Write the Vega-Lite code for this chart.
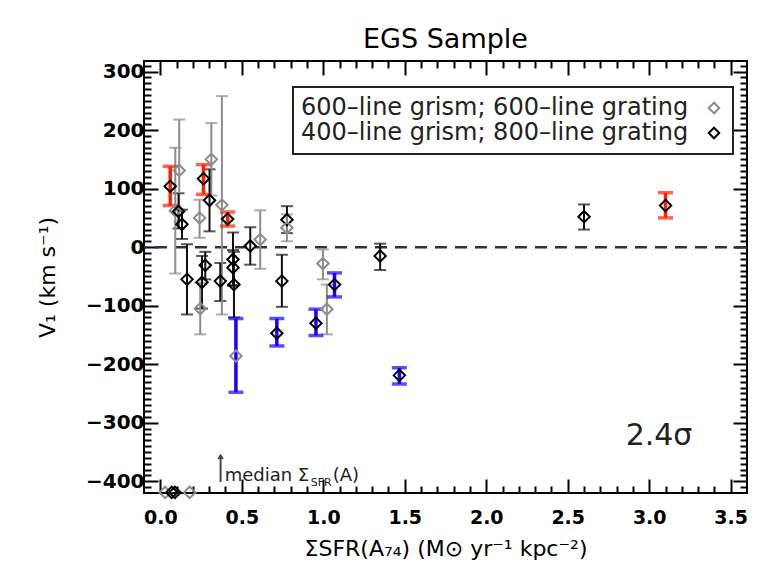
{
  "$schema": "https://vega.github.io/schema/vega-lite/v6.json",
  "width": 603,
  "height": 432,
  "autosize": {"type": "none"},
  "padding": {"left": 144, "top": 61, "right": 20, "bottom": 79},
  "background": "white",
  "title": {"text": "EGS Sample", "font": "DejaVu Sans", "fontSize": 27, "fontWeight": "normal", "color": "black", "anchor": "middle", "frame": "group", "offset": 2},
  "datasets": {
    "pts": [
      {"x": 0.092, "v": 62, "lo": -45, "hi": 170, "grp": "600", "sig": "no"},
      {"x": 0.116, "v": 131, "lo": 44, "hi": 218, "grp": "600", "sig": "no"},
      {"x": 0.112, "v": 61, "lo": 32, "hi": 92, "grp": "400", "sig": "no"},
      {"x": 0.133, "v": 39, "lo": 14, "hi": 64, "grp": "400", "sig": "no"},
      {"x": 0.164, "v": -55, "lo": -115, "hi": 5, "grp": "400", "sig": "no"},
      {"x": 0.241, "v": 50, "lo": 16, "hi": 81, "grp": "600", "sig": "no"},
      {"x": 0.313, "v": 150, "lo": 88, "hi": 212, "grp": "600", "sig": "no"},
      {"x": 0.302, "v": 80, "lo": 27, "hi": 133, "grp": "400", "sig": "no"},
      {"x": 0.378, "v": 72, "lo": -115, "hi": 258, "grp": "600", "sig": "no"},
      {"x": 0.446, "v": -21, "lo": -66, "hi": 25, "grp": "400", "sig": "no"},
      {"x": 0.446, "v": -35, "lo": -65, "hi": -5, "grp": "400", "sig": "no"},
      {"x": 0.452, "v": -64, "lo": -120, "hi": -8, "grp": "400", "sig": "no"},
      {"x": 0.552, "v": 2, "lo": -30, "hi": 34, "grp": "400", "sig": "no"},
      {"x": 0.613, "v": 13, "lo": -37, "hi": 63, "grp": "600", "sig": "no"},
      {"x": 0.777, "v": 47, "lo": 24, "hi": 70, "grp": "400", "sig": "no"},
      {"x": 0.777, "v": 33, "lo": 10, "hi": 56, "grp": "600", "sig": "no"},
      {"x": 0.276, "v": -31, "lo": -55, "hi": -8, "grp": "400", "sig": "no"},
      {"x": 0.256, "v": -60, "lo": -105, "hi": -15, "grp": "400", "sig": "no"},
      {"x": 0.245, "v": -105, "lo": -149, "hi": -61, "grp": "600", "sig": "no"},
      {"x": 0.368, "v": -58, "lo": -92, "hi": -27, "grp": "400", "sig": "no"},
      {"x": 0.746, "v": -58, "lo": -102, "hi": -13, "grp": "400", "sig": "no"},
      {"x": 0.998, "v": -28, "lo": -55, "hi": -4, "grp": "600", "sig": "no"},
      {"x": 1.022, "v": -106, "lo": -149, "hi": -64, "grp": "600", "sig": "no"},
      {"x": 1.349, "v": -15, "lo": -39, "hi": 6, "grp": "400", "sig": "no"},
      {"x": 2.6, "v": 52, "lo": 30, "hi": 73, "grp": "400", "sig": "no"},
      {"x": 0.061, "v": 104, "lo": 71, "hi": 138, "grp": "400", "sig": "pos"},
      {"x": 0.265, "v": 117, "lo": 90, "hi": 141, "grp": "400", "sig": "pos"},
      {"x": 0.413, "v": 48, "lo": 36, "hi": 60, "grp": "400", "sig": "pos"},
      {"x": 3.1, "v": 71, "lo": 50, "hi": 93, "grp": "400", "sig": "pos"},
      {"x": 0.464, "v": -186, "lo": -248, "hi": -122, "grp": "600", "sig": "neg"},
      {"x": 0.715, "v": -147, "lo": -169, "hi": -122, "grp": "400", "sig": "neg"},
      {"x": 0.955, "v": -130, "lo": -151, "hi": -106, "grp": "400", "sig": "neg"},
      {"x": 1.069, "v": -64, "lo": -85, "hi": -44, "grp": "400", "sig": "neg"},
      {"x": 1.467, "v": -219, "lo": -234, "hi": -206, "grp": "400", "sig": "neg"},
      {"x": 0.03, "v": -419, "lo": null, "hi": null, "grp": "600", "sig": "lim"},
      {"x": 0.07, "v": -419, "lo": null, "hi": null, "grp": "400", "sig": "lim"},
      {"x": 0.09, "v": -419, "lo": null, "hi": null, "grp": "400", "sig": "lim"},
      {"x": 0.18, "v": -419, "lo": null, "hi": null, "grp": "600", "sig": "lim"}
    ]
  },
  "data": {"name": "pts"},
  "resolve": {"axis": {"x": "independent", "y": "independent"}},
  "layer": [
    {
      "data": {"values": [{}]},
      "mark": {"type": "rule", "strokeDash": [12, 8], "strokeWidth": 2.5, "color": "#333333"},
      "encoding": {"y": {"datum": 0, "type": "quantitative", "scale": {"domain": [-420, 318], "nice": false, "zero": false}, "axis": null}}
    },
    {
      "transform": [{"filter": "datum.sig == 'no'"}],
      "mark": {"type": "errorbar", "ticks": true, "size": 12, "thickness": 2},
      "encoding": {
        "x": {"field": "x", "type": "quantitative", "scale": {"domain": [-0.1, 3.6], "nice": false, "zero": false},
          "axis": {"orient": "bottom", "title": "ΣSFR(A₇₄) (M⊙ yr⁻¹ kpc⁻²)", "values": [0,0.1,0.2,0.3,0.4,0.5,0.6,0.7,0.8,0.9,1,1.1,1.2,1.3,1.4,1.5,1.6,1.7,1.8,1.9,2,2.1,2.2,2.3,2.4,2.5,2.6,2.7,2.8,2.9,3,3.1,3.2,3.3,3.4,3.5],
            "labelExpr": "round(datum.value*10) % 5 == 0 ? format(datum.value, '.1f') : ''",
            "tickSize": {"condition": {"test": "round(datum.value*10) % 5 == 0", "value": -14}, "value": -7},
            "labelPadding": 29, "titlePadding": 4, "labelFlush": false, "labelOverlap": false}},
        "y": {"field": "lo", "type": "quantitative", "scale": {"domain": [-420, 318], "nice": false, "zero": false},
          "axis": {"orient": "left", "title": "V₁ (km s⁻¹)", "values": [-410,-400,-390,-380,-370,-360,-350,-340,-330,-320,-310,-300,-290,-280,-270,-260,-250,-240,-230,-220,-210,-200,-190,-180,-170,-160,-150,-140,-130,-120,-110,-100,-90,-80,-70,-60,-50,-40,-30,-20,-10,0,10,20,30,40,50,60,70,80,90,100,110,120,130,140,150,160,170,180,190,200,210,220,230,240,250,260,270,280,290,300,310],
            "labelExpr": "datum.value % 100 == 0 ? datum.label : ''",
            "tickSize": {"condition": {"test": "datum.value % 100 == 0", "value": -14}, "value": -7},
            "labelFontSize": 20, "labelPadding": 14, "titlePadding": 26, "labelOverlap": false, "labelFlush": false}},
        "y2": {"field": "hi"},
        "color": {"field": "grp", "type": "nominal", "scale": {"domain": ["600", "400", "pos", "neg"], "range": ["#8c8c8c", "#111111", "#ff2200", "#1a00ff"]}, "legend": null}
      }
    },
    {
      "transform": [{"filter": "datum.sig == 'pos' || datum.sig == 'neg'"}],
      "mark": {"type": "errorbar", "ticks": true, "size": 15, "thickness": 3.5},
      "encoding": {
        "x": {"field": "x", "type": "quantitative", "scale": {"domain": [-0.1, 3.6], "nice": false, "zero": false}, "axis": null},
        "y": {"field": "lo", "type": "quantitative", "scale": {"domain": [-420, 318], "nice": false, "zero": false}, "axis": null},
        "y2": {"field": "hi"},
        "color": {"field": "sig", "type": "nominal", "scale": {"domain": ["600", "400", "pos", "neg"], "range": ["#8c8c8c", "#111111", "#ff2200", "#1a00ff"]}, "legend": null}
      }
    },
    {
      "mark": {"type": "point", "shape": "diamond", "filled": false, "size": 130, "strokeWidth": 2, "opacity": 1},
      "encoding": {
        "x": {"field": "x", "type": "quantitative", "scale": {"domain": [-0.1, 3.6], "nice": false, "zero": false},
          "axis": {"orient": "top", "title": null, "labels": false, "values": [0,0.1,0.2,0.3,0.4,0.5,0.6,0.7,0.8,0.9,1,1.1,1.2,1.3,1.4,1.5,1.6,1.7,1.8,1.9,2,2.1,2.2,2.3,2.4,2.5,2.6,2.7,2.8,2.9,3,3.1,3.2,3.3,3.4,3.5],
            "tickSize": {"condition": {"test": "round(datum.value*10) % 5 == 0", "value": -14}, "value": -7}}},
        "y": {"field": "v", "type": "quantitative", "scale": {"domain": [-420, 318], "nice": false, "zero": false},
          "axis": {"orient": "right", "title": null, "labels": false, "values": [-410,-400,-390,-380,-370,-360,-350,-340,-330,-320,-310,-300,-290,-280,-270,-260,-250,-240,-230,-220,-210,-200,-190,-180,-170,-160,-150,-140,-130,-120,-110,-100,-90,-80,-70,-60,-50,-40,-30,-20,-10,0,10,20,30,40,50,60,70,80,90,100,110,120,130,140,150,160,170,180,190,200,210,220,230,240,250,260,270,280,290,300,310],
            "tickSize": {"condition": {"test": "datum.value % 100 == 0", "value": -14}, "value": -7}}},
        "stroke": {"field": "grp", "type": "nominal", "scale": {"domain": ["600", "400"], "range": ["#8c8c8c", "#000000"]},
          "legend": {"title": null, "orient": "none", "legendX": 149, "legendY": 26, "direction": "vertical",
            "symbolType": "diamond", "symbolSize": 110, "symbolStrokeWidth": 2, "symbolOffset": 400, "labelOffset": -425,
            "labelFont": "DejaVu Sans", "labelFontSize": 24, "labelColor": "#222222", "labelLimit": 600,
            "labelExpr": "datum.value == '600' ? '600–line grism; 600–line grating' : '400–line grism; 800–line grating'",
            "strokeColor": "#222222", "fillColor": "white", "padding": 9, "rowPadding": 1}}
      }
    },
    {
      "data": {"values": [{}]},
      "mark": {"type": "rule", "strokeWidth": 2, "color": "#444444"},
      "encoding": {
        "x": {"datum": 0.37, "type": "quantitative", "axis": null},
        "y": {"datum": -401, "type": "quantitative", "axis": null},
        "y2": {"datum": -356}
      }
    },
    {
      "data": {"values": [{}]},
      "mark": {"type": "point", "shape": "M -0.6 0.9 L 0 0 L 0.6 0.9", "filled": false, "size": 60, "strokeWidth": 2, "color": "#444444", "opacity": 1},
      "encoding": {
        "x": {"datum": 0.37, "type": "quantitative", "axis": null},
        "y": {"datum": -356, "type": "quantitative", "axis": null}
      }
    },
    {
      "data": {"values": [{}]},
      "mark": {"type": "text", "text": "median Σ", "align": "left", "baseline": "alphabetic", "font": "DejaVu Sans", "fontSize": 18, "color": "#222222"},
      "encoding": {
        "x": {"datum": 0.395, "type": "quantitative", "axis": null},
        "y": {"datum": -400, "type": "quantitative", "axis": null}
      }
    },
    {
      "data": {"values": [{}]},
      "mark": {"type": "text", "text": "SFR", "align": "left", "baseline": "alphabetic", "font": "DejaVu Sans", "fontSize": 11, "color": "#222222", "dx": 86, "dy": 5},
      "encoding": {
        "x": {"datum": 0.395, "type": "quantitative", "axis": null},
        "y": {"datum": -400, "type": "quantitative", "axis": null}
      }
    },
    {
      "data": {"values": [{}]},
      "mark": {"type": "text", "text": "(A)", "align": "left", "baseline": "alphabetic", "font": "DejaVu Sans", "fontSize": 18, "color": "#222222", "dx": 108},
      "encoding": {
        "x": {"datum": 0.395, "type": "quantitative", "axis": null},
        "y": {"datum": -400, "type": "quantitative", "axis": null}
      }
    },
    {
      "data": {"values": [{}]},
      "mark": {"type": "text", "text": "2.4σ", "align": "center", "baseline": "middle", "font": "DejaVu Sans", "fontSize": 30, "color": "#222222"},
      "encoding": {
        "x": {"datum": 3.06, "type": "quantitative", "axis": null},
        "y": {"datum": -323, "type": "quantitative", "axis": null}
      }
    }
  ],
  "config": {
    "view": {"stroke": "black", "strokeWidth": 2},
    "axis": {"labelFont": "DejaVu Sans", "labelFontSize": 19, "labelFontWeight": "bold", "labelColor": "black", "titleFont": "DejaVu Sans", "titleFontSize": 22, "titleFontWeight": "normal", "titleColor": "black", "tickColor": "black", "tickWidth": 2, "domain": false, "grid": false},
    "legend": {"strokeWidth": 2}
  }
}
